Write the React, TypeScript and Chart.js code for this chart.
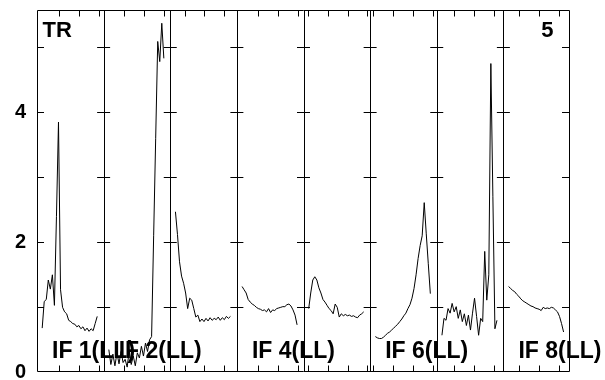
import React, { useEffect, useRef } from 'react';
import { Chart, registerables } from 'chart.js';

Chart.register(...registerables);

// ---- data (amplitude per channel, one array per IF) ----
const IF1 = [0.68, 1.09, 1.12, 1.42, 1.28, 1.50, 1.03, 2.40, 3.85, 1.27, 1.00, 0.93, 0.90, 0.80, 0.78, 0.75, 0.74, 0.70, 0.72, 0.67, 0.70, 0.64, 0.68, 0.63, 0.67, 0.64, 0.75, 0.86];
const IF2 = [0.35, 0.12, 0.28, 0.10, 0.30, 0.13, 0.32, 0.15, 0.20, 0.08, 0.33, 0.12, 0.25, 0.10, 0.30, 0.22, 0.40, 0.25, 0.45, 0.32, 0.50, 0.55, 2.10, 3.60, 5.09, 4.78, 5.37, 4.83];
const IF3 = [2.47, 2.12, 1.70, 1.48, 1.37, 1.22, 0.98, 1.14, 1.11, 0.98, 0.85, 0.88, 0.78, 0.82, 0.78, 0.83, 0.79, 0.84, 0.80, 0.83, 0.81, 0.85, 0.80, 0.84, 0.81, 0.86, 0.83, 0.86];
const IF4 = [1.32, 1.27, 1.22, 1.12, 1.08, 1.05, 1.03, 1.00, 0.98, 0.97, 0.95, 0.96, 0.93, 0.98, 0.92, 0.96, 0.95, 0.98, 0.99, 1.00, 1.01, 1.01, 1.04, 1.05, 1.02, 0.96, 0.88, 0.73];
const IF5 = [0.98, 1.22, 1.42, 1.47, 1.42, 1.30, 1.22, 1.12, 1.08, 1.03, 0.98, 0.95, 0.90, 1.05, 1.00, 0.85, 0.90, 0.87, 0.89, 0.87, 0.88, 0.86, 0.87, 0.85, 0.84, 0.88, 0.90, 0.93];
const IF6 = [0.55, 0.53, 0.52, 0.52, 0.54, 0.57, 0.60, 0.62, 0.65, 0.68, 0.71, 0.74, 0.78, 0.82, 0.87, 0.91, 0.98, 1.04, 1.14, 1.29, 1.50, 1.75, 1.95, 2.10, 2.61, 2.13, 1.67, 1.21];
const IF7 = [0.57, 0.83, 0.80, 0.98, 0.91, 1.06, 0.93, 1.01, 0.83, 0.96, 0.78, 0.90, 0.72, 0.88, 0.65, 0.91, 1.14, 0.86, 0.57, 0.83, 0.78, 1.86, 1.11, 1.50, 4.75, 2.70, 0.67, 0.80];
const IF8 = [1.32, 1.29, 1.26, 1.24, 1.20, 1.17, 1.13, 1.10, 1.08, 1.06, 1.04, 1.02, 1.01, 0.99, 0.98, 0.97, 0.95, 1.00, 0.98, 0.99, 0.98, 1.00, 0.99, 0.96, 0.93, 0.86, 0.75, 0.62];
const SERIES = [IF1, IF2, IF3, IF4, IF5, IF6, IF7, IF8];

const IF_LABELS = ['IF 1(LL)', 'IF 2(LL)', '', 'IF 4(LL)', '', 'IF 6(LL)', '', 'IF 8(LL)'];
const CORNER_LEFT = 'TR';
const CORNER_RIGHT = '5';
const Y_TICK_VALUES = [1, 2, 3, 4, 5];
const Y_LABEL_VALUES = [0, 2, 4];
const Y_MAX = 5.574;

// per-panel channel axis (in channel units)
const PANEL_UNITS = 32.7;
const FIRST_CHANNEL = 2.55;
const X_TICK_START = [10.8, 10.2, 7.0, 10.6, 2.0, 1.6, 8.5, 7.9];
const X_TICK_STEP = 9.8;

const FONT = '"Liberation Sans", Arial, Helvetica, sans-serif';

const panelPlugin = {
  id: 'panelFrame',
  afterDatasetsDraw(chart: any) {
    const { ctx, chartArea: a, scales } = chart;
    const xs = scales.x;
    const ys = scales.y;
    const cr = (v: number) => Math.round(v) + 0.5;
    ctx.save();
    ctx.strokeStyle = '#000';
    ctx.lineWidth = 1;
    const top = cr(a.top);
    const bottom = Math.round(a.bottom) - 0.5;
    // outer frame
    ctx.beginPath();
    ctx.rect(cr(a.left), top, cr(a.right) - 1 - cr(a.left), bottom - top);
    ctx.stroke();
    // panel boundaries
    for (let p = 1; p < SERIES.length; p++) {
      const x = cr(xs.getPixelForValue(p * PANEL_UNITS));
      ctx.beginPath();
      ctx.moveTo(x, top);
      ctx.lineTo(x, bottom);
      ctx.stroke();
    }
    // y ticks on each boundary
    for (const v of Y_TICK_VALUES) {
      const y = cr(ys.getPixelForValue(v));
      for (let p = 0; p <= SERIES.length; p++) {
        const x = xs.getPixelForValue(p * PANEL_UNITS);
        let x0 = x - 6.5;
        let x1 = x + 6.5;
        if (p === 0) { x0 = x; x1 = x + 7; }
        if (p === SERIES.length) { x0 = x - 8; x1 = x; }
        ctx.beginPath();
        ctx.moveTo(x0, y);
        ctx.lineTo(x1, y);
        ctx.stroke();
      }
    }
    // x ticks top & bottom
    for (let p = 0; p < SERIES.length; p++) {
      for (let t = X_TICK_START[p]; t < PANEL_UNITS - 0.5; t += X_TICK_STEP) {
        const x = cr(xs.getPixelForValue(p * PANEL_UNITS + t));
        ctx.beginPath();
        ctx.moveTo(x, top);
        ctx.lineTo(x, top + 6);
        ctx.moveTo(x, bottom);
        ctx.lineTo(x, bottom - 6);
        ctx.stroke();
      }
    }
    // labels
    ctx.fillStyle = '#000';
    ctx.textBaseline = 'alphabetic';
    ctx.textAlign = 'left';
    ctx.font = `bold 23px ${FONT}`;
    IF_LABELS.forEach((label, p) => {
      if (!label) return;
      const x = xs.getPixelForValue(p * PANEL_UNITS) + 15;
      ctx.fillText(label, x, a.bottom - 14);
    });
    ctx.font = `bold 22px ${FONT}`;
    ctx.fillText(CORNER_LEFT, a.left + 5.5, a.top + 26.7);
    ctx.textAlign = 'right';
    ctx.fillText(CORNER_RIGHT, a.right - 16.5, a.top + 26.7);
    ctx.restore();
  },
};

export default function App() {
  const canvasRef = useRef<HTMLCanvasElement | null>(null);

  useEffect(() => {
    const canvas = canvasRef.current;
    if (!canvas) return;
    const datasets = SERIES.map((vals, p) => ({
      label: IF_LABELS[p] || `IF ${p + 1}(LL)`,
      data: vals.map((y, i) => ({ x: p * PANEL_UNITS + FIRST_CHANNEL + i, y })),
      borderColor: '#000',
      borderWidth: 1,
      pointRadius: 0,
      fill: false,
      tension: 0,
    }));
    const chart = new Chart(canvas, {
      type: 'line',
      data: { datasets },
      options: {
        animation: false,
        responsive: false,
        events: [],
        layout: { padding: { left: 0, right: 35, top: 10, bottom: 7.7 } },
        plugins: { legend: { display: false }, tooltip: { enabled: false } },
        scales: {
          x: {
            type: 'linear',
            min: 0,
            max: PANEL_UNITS * SERIES.length,
            display: false,
          },
          y: {
            type: 'linear',
            min: 0,
            max: Y_MAX,
            grid: { display: false, drawTicks: false },
            border: { display: false },
            ticks: {
              stepSize: 1,
              includeBounds: false,
              autoSkip: false,
              padding: 11,
              color: '#000',
              font: { family: FONT, size: 20, weight: 'bold' },
              callback: (v: any) => (Y_LABEL_VALUES.includes(Number(v)) ? String(v) : ''),
            },
            afterFit: (scale: any) => {
              scale.width = 37;
              scale.paddingTop = 0;
              scale.paddingBottom = 0;
            },
          },
        },
      } as any,
      plugins: [panelPlugin],
    });
    return () => chart.destroy();
  }, []);

  return (
    <div style={{ position: 'fixed', left: 0, top: 0, width: 605, height: 380, background: '#fff' }}>
      <canvas ref={canvasRef} width={605} height={380} style={{ display: 'block' }} />
    </div>
  );
}
